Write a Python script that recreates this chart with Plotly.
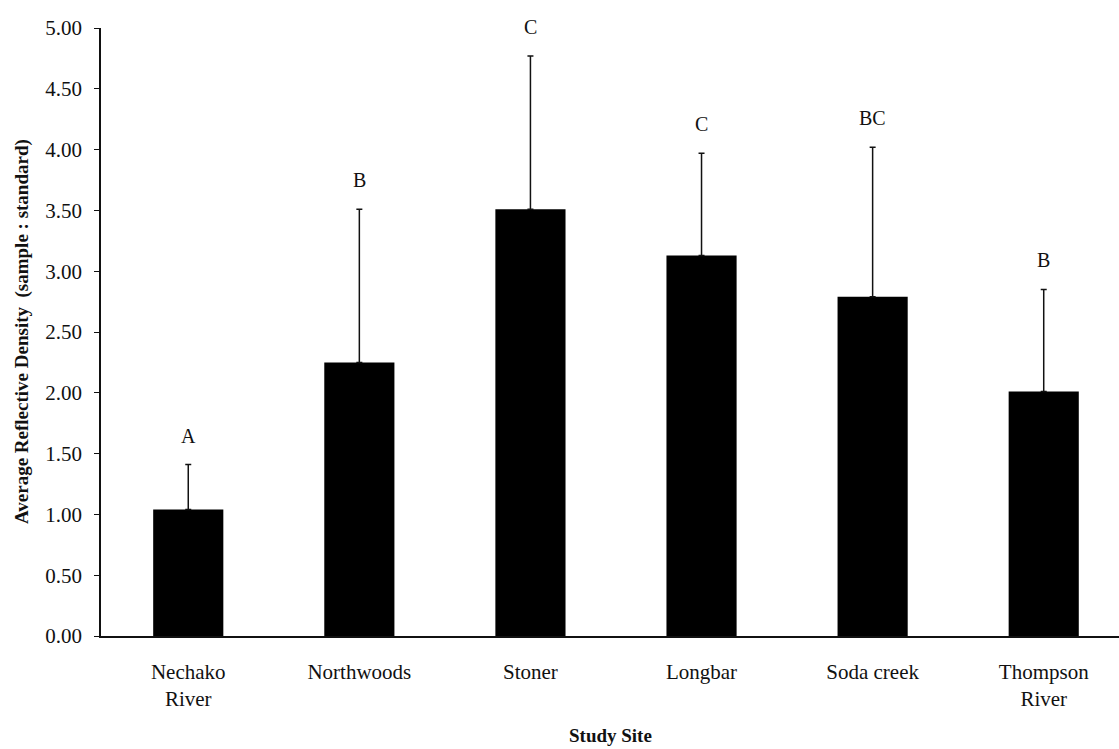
import plotly.graph_objects as go

sites = ["Nechako<br>River", "Northwoods", "Stoner", "Longbar", "Soda creek", "Thompson<br>River"]
means = [1.04, 2.25, 3.51, 3.13, 2.79, 2.01]
errors = [0.37, 1.26, 1.26, 0.84, 1.23, 0.84]
letters = ["A", "B", "C", "C", "BC", "B"]
y_ticks = [0, 0.5, 1.0, 1.5, 2.0, 2.5, 3.0, 3.5, 4.0, 4.5, 5.0]

FONT = "Liberation Serif, Times New Roman, serif"
INK = "#111111"

fig = go.Figure()
fig.add_trace(go.Bar(
    x=list(range(len(sites))),
    y=means,
    marker=dict(color="#000000", line=dict(width=0)),
    error_y=dict(type="data", array=errors, symmetric=False, arrayminus=[0] * len(errors),
                 color=INK, thickness=1.5, width=3),
    width=0.41,
    showlegend=False,
))

for i, (m, e, lab) in enumerate(zip(means, errors, letters)):
    fig.add_annotation(x=i, y=m + e, xref="x", yref="y", text=lab, showarrow=False,
                       yanchor="bottom", yshift=16,
                       font=dict(family=FONT, size=20, color=INK))

fig.add_annotation(xref="paper", yref="paper", x=0.5, y=0, yshift=-99,
                   text="<b>Study Site</b>", showarrow=False, yanchor="middle",
                   xanchor="center", font=dict(family=FONT, size=19, color=INK))
fig.add_annotation(xref="paper", yref="paper", x=0, y=0.5, xshift=-79,
                   text="<b>Average Reflective Density  (sample : standard)</b>",
                   textangle=-90, showarrow=False, xanchor="center", yanchor="middle",
                   font=dict(family=FONT, size=19, color=INK))

fig.update_layout(
    width=1119, height=749,
    margin=dict(l=101, r=0, t=28, b=113),
    paper_bgcolor="white", plot_bgcolor="white",
    font=dict(family=FONT, size=21, color=INK),
    xaxis=dict(
        range=[-0.51, 5.44],
        tickmode="array", tickvals=list(range(len(sites))), ticktext=sites,
        showline=True, linecolor=INK, linewidth=1.5,
        showgrid=False, zeroline=False, ticks="",
        ticklabelstandoff=16,
        tickfont=dict(family=FONT, size=21, color=INK),
    ),
    yaxis=dict(
        range=[0, 5],
        tickmode="array", tickvals=y_ticks,
        ticktext=[f"{v:.2f}" for v in y_ticks],
        showline=True, linecolor=INK, linewidth=1.5,
        ticks="outside", ticklen=5, tickcolor=INK, tickwidth=1.2,
        showgrid=False, zeroline=False,
        ticklabelstandoff=8,
        tickfont=dict(family=FONT, size=21, color=INK),
    ),
)

fig.write_html("out.html", config={"displayModeBar": False},
               post_script="document.body.style.margin='0';document.body.style.overflow='hidden';")
